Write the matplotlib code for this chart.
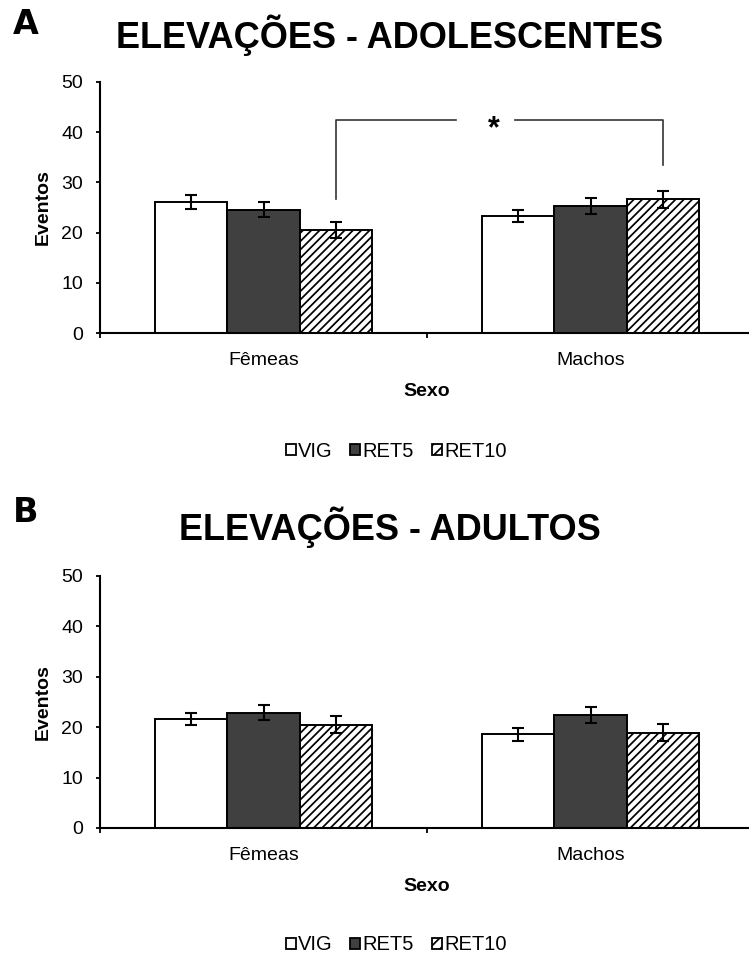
import matplotlib
matplotlib.use("Agg")
import matplotlib.pyplot as plt
from matplotlib.patches import Patch
import numpy as np

plt.rcParams['font.family'] = ['Liberation Sans', 'DejaVu Sans']
plt.rcParams['hatch.linewidth'] = 1.25

# Data
groups = ['Fêmeas', 'Machos']
series = ['VIG', 'RET5', 'RET10']
adol_mean = {'VIG': [26.1, 23.3], 'RET5': [24.6, 25.3], 'RET10': [20.5, 26.6]}
adol_err = {'VIG': [1.45, 1.2], 'RET5': [1.55, 1.6], 'RET10': [1.6, 1.6]}
adul_mean = {'VIG': [21.7, 18.6], 'RET5': [22.9, 22.5], 'RET10': [20.5, 18.9]}
adul_err = {'VIG': [1.2, 1.25], 'RET5': [1.5, 1.6], 'RET10': [1.65, 1.65]}
yticks = [0, 10, 20, 30, 40, 50]

styles = {'VIG': dict(facecolor='white', hatch=None),
          'RET5': dict(facecolor='#404040', hatch=None),
          'RET10': dict(facecolor='white', hatch='////')}

W, H = 749, 961
fig = plt.figure(figsize=(W / 100, H / 100), dpi=100)


def px_axes(left, top, right, bottom):
    return fig.add_axes([left / W, 1 - bottom / H, (right - left) / W, (bottom - top) / H])


def draw_panel(ax, means, errs):
    x = np.arange(len(groups))
    bw = 0.222
    for i, s in enumerate(series):
        st = styles[s]
        ax.bar(x + (i - 1) * bw, means[s], bw, color=st['facecolor'], hatch=st['hatch'],
               edgecolor='black', linewidth=1.4, zorder=2)
        ax.errorbar(x + (i - 1) * bw, means[s], yerr=errs[s], fmt='none', ecolor='black',
                    elinewidth=1.5, capsize=4.5, capthick=1.5, zorder=3)
    ax.set_xlim(-0.5, 1.5)
    ax.set_ylim(0, 50)
    ax.set_yticks(yticks)
    ax.set_xticks(x)
    ax.set_xticklabels(groups)
    ax.set_xticks([-0.5, 0.5, 1.5], minor=True)
    ax.tick_params(axis='x', which='major', length=0, labelsize=14, pad=14)
    ax.tick_params(axis='x', which='minor', length=3.6, width=1.3, direction='out')
    ax.tick_params(axis='y', length=3.2, width=1.3, labelsize=14, pad=9)
    for sp in ['top', 'right']:
        ax.spines[sp].set_visible(False)
    for sp in ['left', 'bottom']:
        ax.spines[sp].set_linewidth(1.5)
    ax.set_ylabel('Eventos', fontsize=14, fontweight='bold', labelpad=7)
    ax.set_xlabel('Sexo', fontsize=14, fontweight='bold', labelpad=10)


axA = px_axes(100, 82, 754, 333)
draw_panel(axA, adol_mean, adol_err)
axB = px_axes(100, 576, 754, 828)
draw_panel(axB, adul_mean, adul_err)

# significance bracket (panel A)
xl, xr = 0 + 0.222, 1 + 0.222
yb = 42.4
axA.plot([xl, xl, 0.59], [26.6, yb, yb], color='#333333', lw=1.2, clip_on=False)
axA.plot([0.77, xr, xr], [yb, yb, 33.5], color='#333333', lw=1.2, clip_on=False)
axA.text(0.705, yb - 1.8, '*', ha='center', va='center', fontsize=22, fontweight='bold')

# titles and panel letters
fig.text(390 / W, 1 - 35 / H, 'ELEVAÇÕES - ADOLESCENTES', ha='center', va='center',
         fontsize=26, fontweight='bold')
fig.text(390 / W, 1 - 527 / H, 'ELEVAÇÕES - ADULTOS', ha='center', va='center',
         fontsize=26, fontweight='bold')
fig.text(13 / W, 1 - 24 / H, 'A', ha='left', va='center', fontsize=24,
         family='DejaVu Sans', fontweight='heavy')
fig.text(13 / W, 1 - 513 / H, 'B', ha='left', va='center', fontsize=24,
         family='DejaVu Sans', fontweight='heavy')

# legends
handles = [Patch(facecolor=styles[s]['facecolor'], hatch='///' if styles[s]['hatch'] else None,
                 edgecolor='black', linewidth=1.3, label=s) for s in series]
for yc in (451, 945):
    fig.legend(handles=handles, loc='center', bbox_to_anchor=(396 / W, 1 - yc / H),
               ncol=3, frameon=False, fontsize=14.5, handlelength=0.5, handleheight=0.5,
               handletextpad=0.1, columnspacing=0.9)

fig.savefig('out.png', dpi=100)
